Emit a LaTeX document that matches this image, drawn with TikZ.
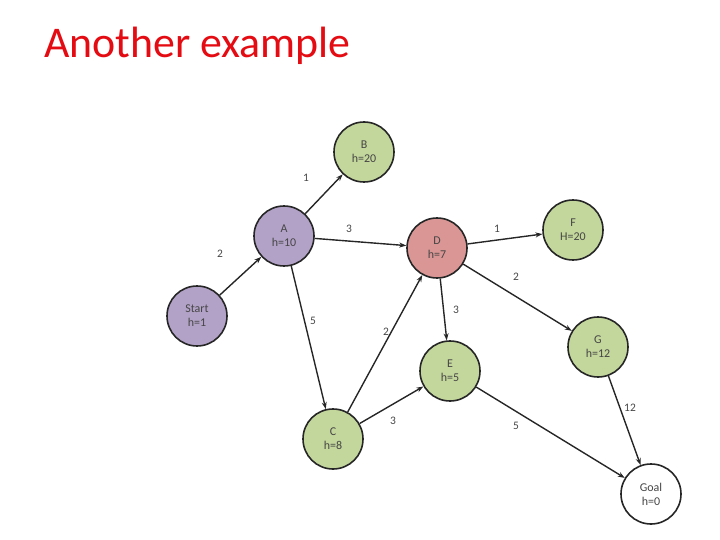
\documentclass[tikz,border=0pt]{standalone}
\usepackage{fontspec}
\setmainfont{Carlito}
\usetikzlibrary{arrows.meta}
\definecolor{gfill}{RGB}{195,214,155}
\definecolor{pfill}{RGB}{178,162,199}
\definecolor{rfill}{RGB}{217,150,148}
\definecolor{titlered}{RGB}{228,12,18}
\definecolor{txt}{RGB}{70,70,70}
\tikzset{
  state/.style={circle,draw=black!85,line width=1.6pt,minimum size=60bp,inner sep=0pt,align=center,font=\fontsize{12}{14}\selectfont,text=txt},
  edge/.style={line width=1.4pt,draw=black!85,-{Stealth[length=7pt,width=5pt]}},
  wlab/.style={font=\fontsize{11.5}{13}\selectfont,text=txt}
}
\begin{document}
\begin{tikzpicture}[x=1bp,y=-1bp]
\useasboundingbox (0,0) rectangle (720,540);
\node[anchor=base west,text=titlered,font=\fontsize{44}{46}\selectfont,inner sep=0pt] (title) at (44,58) {Another example};
\node[state,fill=pfill] (S) at (197,316) {Start\\h=1};
\node[state,fill=pfill] (A) at (284,236) {A\\h=10};
\node[state,fill=gfill] (B) at (364,152) {B\\h=20};
\node[state,fill=rfill] (D) at (437,248) {D\\h=7};
\node[state,fill=gfill] (F) at (573,230) {F\\H=20};
\node[state,fill=gfill] (G) at (598,347) {G\\h=12};
\node[state,fill=gfill] (E) at (450,371) {E\\h=5};
\node[state,fill=gfill] (C) at (333,439) {C\\h=8};
\node[state,fill=white] (Goal) at (651,494) {Goal\\h=0};
\draw[edge] (S) -- (A);
\draw[edge] (A) -- (B);
\draw[edge] (A) -- (D);
\draw[edge] (A) -- (C);
\draw[edge] (C) -- (D);
\draw[edge] (D) -- (F);
\draw[edge] (D) -- (G);
\draw[edge] (D) -- (E);
\draw[edge] (C) -- (E);
\draw[edge] (E) -- (Goal);
\draw[edge] (G) -- (Goal);
\node[wlab] (l1) at (306,178) {1};
\node[wlab] (l2) at (220,254) {2};
\node[wlab] (l3) at (349,229) {3};
\node[wlab] (l4) at (313,321) {5};
\node[wlab] (l5) at (386,332) {2};
\node[wlab] (l6) at (497,229) {1};
\node[wlab] (l7) at (516,277) {2};
\node[wlab] (l8) at (456,310) {3};
\node[wlab] (l9) at (393,421) {3};
\node[wlab] (l10) at (516,426) {5};
\node[wlab] (l11) at (630,408) {12};
\end{tikzpicture}
\end{document}
